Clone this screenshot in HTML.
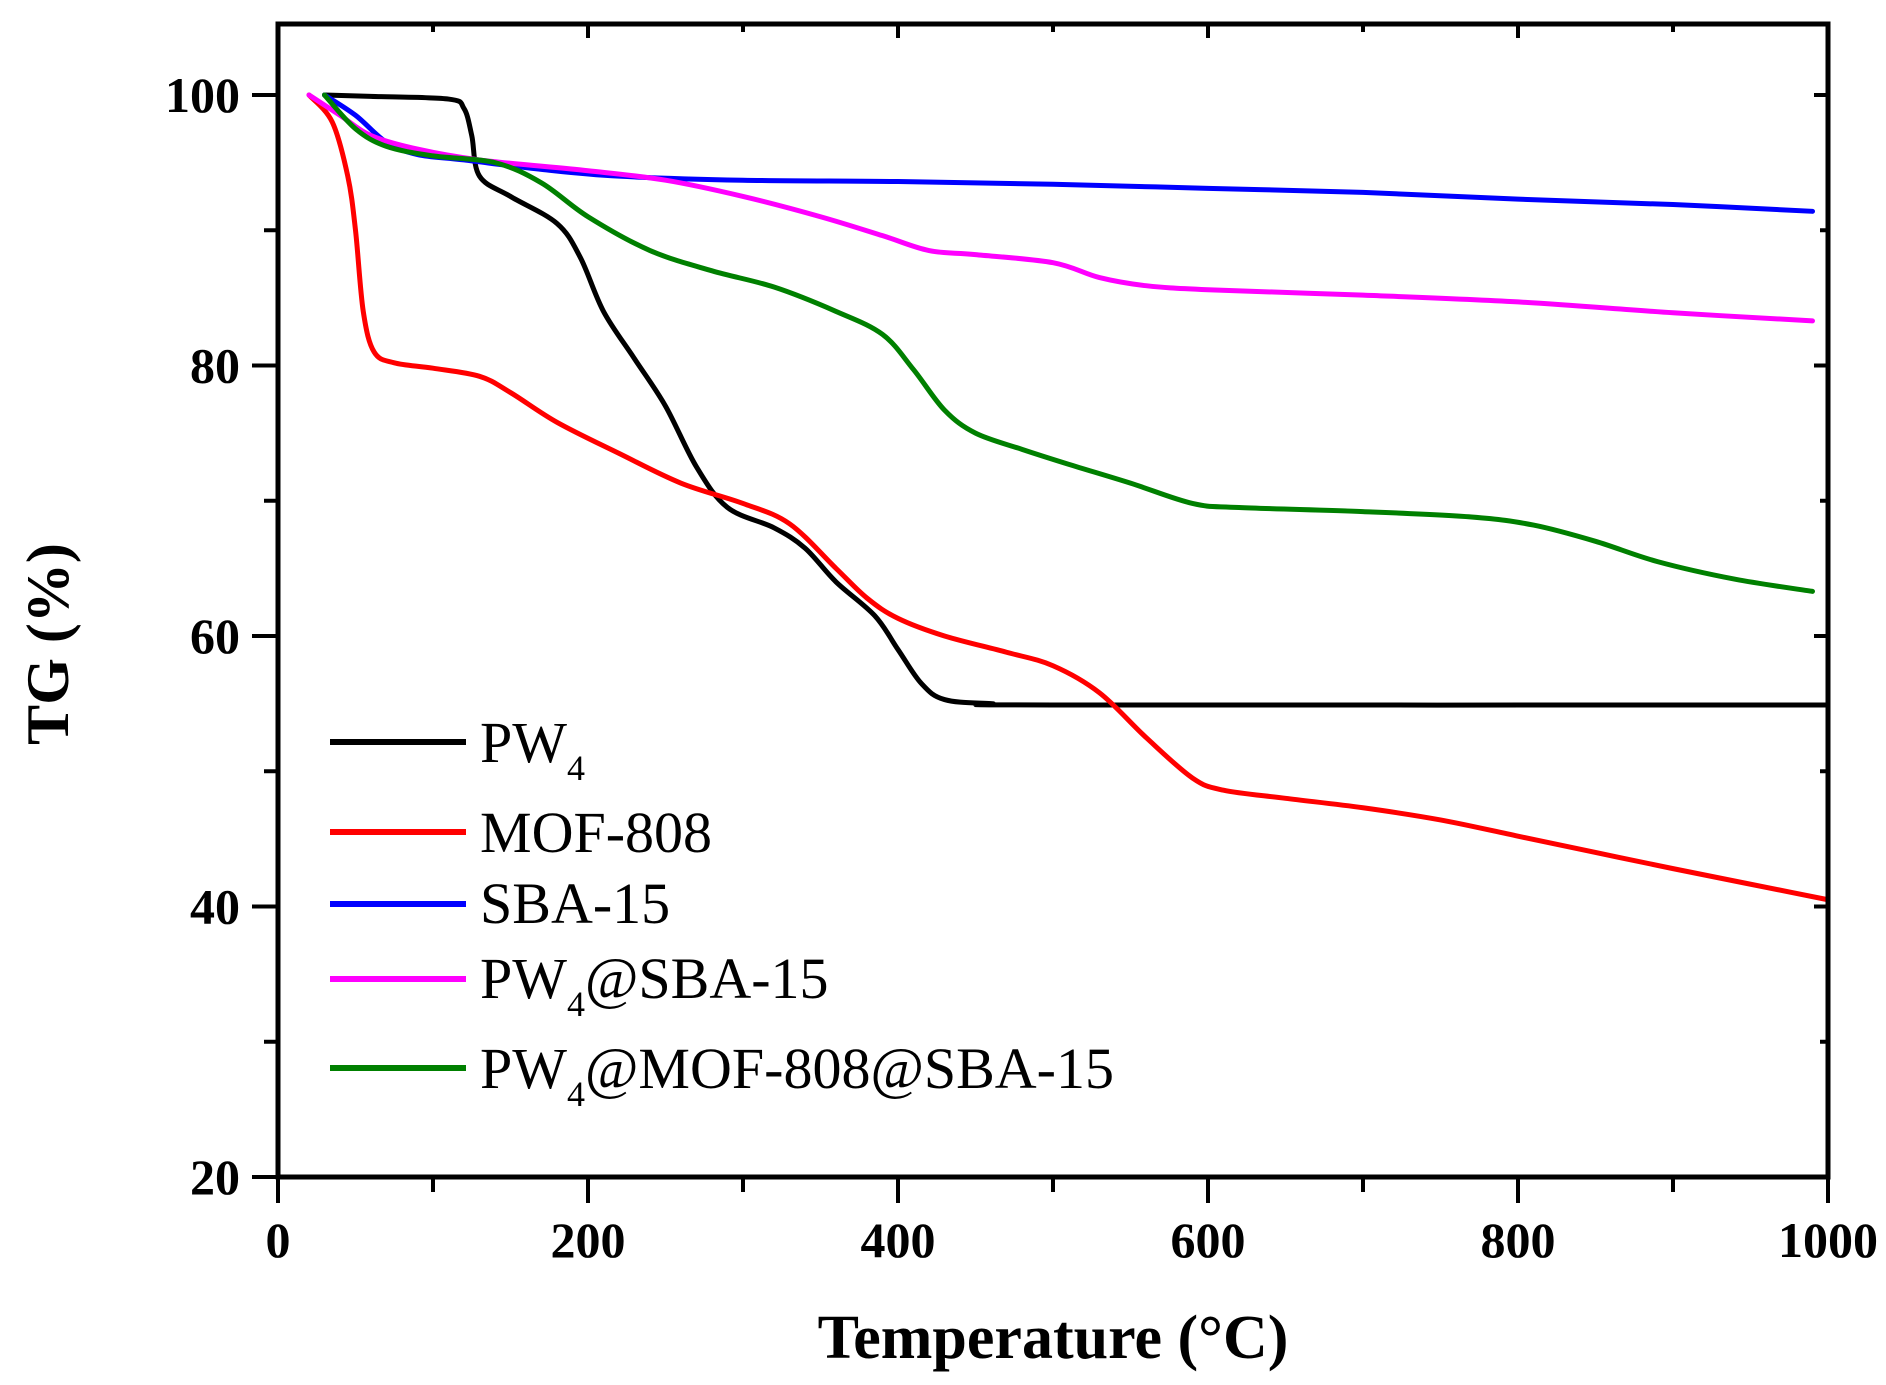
<!DOCTYPE html>
<html><head><meta charset="utf-8"><style>
html,body{margin:0;padding:0;background:#fff;}
svg{display:block;font-family:"Liberation Serif",serif;}
</style></head><body>
<svg id="s" width="1886" height="1385" viewBox="0 0 1886 1385" xmlns="http://www.w3.org/2000/svg">
<rect width="1886" height="1385" fill="#fff"/>
<g id="curves" fill="none" stroke-width="5" stroke-linejoin="round" stroke-linecap="round"></g>
<rect x="278" y="24" width="1550" height="1153" fill="none" stroke="#000" stroke-width="5"/>
<g id="ticks" stroke="#000" stroke-width="4"></g>
<g font-weight="bold" font-size="50" fill="#000" id="labels"></g>
<text x="1053" y="1358" text-anchor="middle" font-weight="bold" font-size="62">Temperature (°C)</text>
<text transform="translate(68,644) rotate(-90)" text-anchor="middle" font-weight="bold" font-size="60">TG (%)</text>
<g font-size="58" fill="#000">
<line x1="330" y1="742" x2="466" y2="742" stroke="#000" stroke-width="6"/>
<text x="480" y="762">PW<tspan font-size="36" dy="18">4</tspan></text>
<line x1="330" y1="832" x2="466" y2="832" stroke="#ff0000" stroke-width="6"/>
<text x="480" y="852">MOF-808</text>
<line x1="330" y1="904" x2="466" y2="904" stroke="#0000ff" stroke-width="6"/>
<text x="480" y="923">SBA-15</text>
<line x1="330" y1="979" x2="466" y2="979" stroke="#ff00ff" stroke-width="6"/>
<text x="480" y="998">PW<tspan font-size="36" dy="18">4</tspan><tspan dy="-18">@SBA-15</tspan></text>
<line x1="330" y1="1068" x2="466" y2="1068" stroke="#008000" stroke-width="6"/>
<text x="480" y="1088">PW<tspan font-size="36" dy="18">4</tspan><tspan dy="-18">@MOF-808@SBA-15</tspan></text>
</g>
</svg>
<script>
const X=t=>278+1.55*t, Y=v=>1177-(v-20)*13.525;
const data={
"#000000":[[30,100],[60,99.9],[110,99.7],[120,99],[125,97],[130,94],[150,92.5],[180,90.5],[195,88],[210,84],[230,80.5],[250,77],[270,72.5],[290,69.5],[320,68],[340,66.5],[360,64],[385,61.5],[400,59],[415,56.5],[430,55.3],[460,55],[500,54.9],[1000,54.9]],
"#ff0000":[[20,100],[35,98],[45,94],[50,90],[55,84],[62,81],[75,80.2],[100,79.8],[130,79.2],[150,78],[180,75.8],[220,73.5],[260,71.3],[300,69.8],[330,68.3],[360,65],[380,62.8],[400,61.3],[430,60],[470,58.8],[500,57.8],[530,55.8],[560,52.5],[590,49.5],[610,48.6],[650,48],[700,47.3],[750,46.4],[800,45.2],[850,44],[900,42.8],[1000,40.5]],
"#0000ff":[[30,100],[50,98.5],[70,96.5],[90,95.6],[120,95.2],[170,94.5],[220,94],[300,93.7],[400,93.6],[500,93.4],[600,93.1],[700,92.8],[800,92.3],[900,91.9],[990,91.4]],
"#ff00ff":[[20,100],[40,98.5],[60,97],[90,96],[130,95.2],[200,94.4],[250,93.7],[300,92.5],[350,91],[390,89.6],[420,88.5],[450,88.2],[500,87.6],[530,86.5],[560,85.9],[600,85.6],[700,85.2],[800,84.7],[900,83.9],[990,83.3]],
"#008000":[[30,100],[50,97.5],[70,96.2],[100,95.5],[140,95],[170,93.5],[200,91],[240,88.5],[280,87],[320,85.8],[360,84],[390,82.3],[410,79.7],[430,76.7],[450,75],[480,73.8],[510,72.7],[550,71.3],[590,69.8],[620,69.5],[700,69.2],[770,68.8],[810,68.2],[850,67],[890,65.5],[940,64.2],[990,63.3]]
};
const ns="http://www.w3.org/2000/svg";
const g=document.getElementById("curves");
for(const c in data){
 const p=data[c].map(([t,v])=>[X(t),Y(v)]);
 let d="M"+p[0][0]+","+p[0][1];
 for(let i=0;i<p.length-1;i++){
  const p0=p[i-1]||p[i],p1=p[i],p2=p[i+1],p3=p[i+2]||p2;
  d+=" C"+(p1[0]+(p2[0]-p0[0])/6)+","+(p1[1]+(p2[1]-p0[1])/6)+" "+(p2[0]-(p3[0]-p1[0])/6)+","+(p2[1]-(p3[1]-p1[1])/6)+" "+p2[0]+","+p2[1];
 }
 const e=document.createElementNS(ns,"path");e.setAttribute("d",d);e.setAttribute("stroke",c);g.appendChild(e);
}
const tk=document.getElementById("ticks"),lb=document.getElementById("labels");
function L(x1,y1,x2,y2){const e=document.createElementNS(ns,"line");e.setAttribute("x1",x1);e.setAttribute("y1",y1);e.setAttribute("x2",x2);e.setAttribute("y2",y2);tk.appendChild(e);}
function T(x,y,s,a){const e=document.createElementNS(ns,"text");e.setAttribute("x",x);e.setAttribute("y",y);e.setAttribute("text-anchor",a);e.textContent=s;lb.appendChild(e);}
for(let t=0;t<=1000;t+=100){const x=X(t);const maj=t%200==0;L(x,1177,x,maj?1203:1192);L(x,24,x,maj?38:32);if(maj)T(x,1257,t,"middle");}
for(let v=20;v<=100;v+=10){const y=Y(v);const maj=v%20==0;L(278,y,maj?252:264,y);L(1828,y,maj?1814:1820,y);if(maj)T(240,y+17,v,"end");}
</script>
</body></html>
